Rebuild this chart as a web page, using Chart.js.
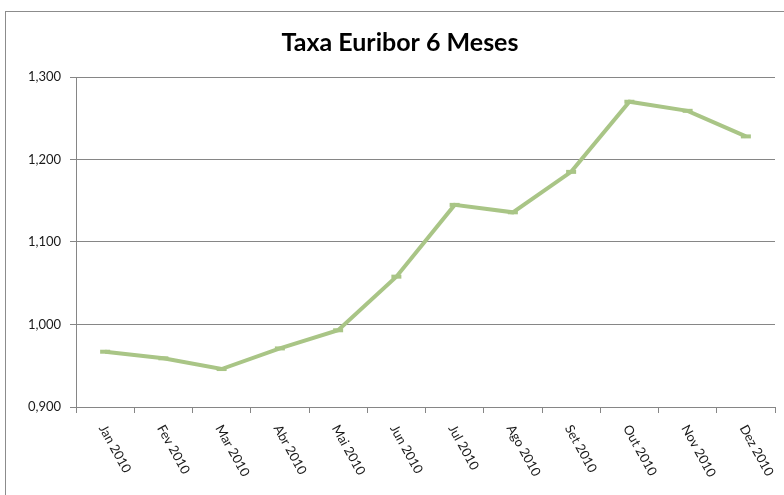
<!DOCTYPE html>
<html>
<head>
<meta charset="utf-8">
<title>Taxa Euribor 6 Meses</title>
<script src="https://cdn.jsdelivr.net/npm/chart.js@4"></script>
<style>
  html, body { margin: 0; padding: 0; background: #fff; }
  #wrap { width: 784px; height: 495px; }
</style>
</head>
<body>
<div id="wrap"><canvas id="chart"></canvas></div>
<script>
// Data
const months = ['Jan 2010', 'Fev 2010', 'Mar 2010', 'Abr 2010', 'Mai 2010', 'Jun 2010',
                'Jul 2010', 'Ago 2010', 'Set 2010', 'Out 2010', 'Nov 2010', 'Dez 2010'];
const euribor6m = [0.967, 0.959, 0.946, 0.971, 0.993, 1.058,
                   1.145, 1.136, 1.185, 1.270, 1.259, 1.228];
const yTicks = [0.9, 1.0, 1.1, 1.2, 1.3];

const LINE_GREEN = '#a9c586';
const AXIS_GREY = '#868686';
const FONT = 'Lato, "Open Sans", sans-serif';

// Excel-like frame around the chart
const framePlugin = {
  id: 'frame',
  beforeDraw(chart) {
    const ctx = chart.ctx;
    ctx.save();
    ctx.fillStyle = '#fff';
    ctx.fillRect(0, 0, chart.width, chart.height);
    ctx.strokeStyle = '#8c8c8c';
    ctx.lineWidth = 1;
    ctx.strokeRect(5.5, 11.5, chart.width + 20, chart.height + 20);
    ctx.restore();
  }
};

// Slanted category labels (rotated clockwise, like the spreadsheet)
const slantedLabels = {
  id: 'slantedLabels',
  afterDraw(chart) {
    const x = chart.scales.x;
    const ctx = chart.ctx;
    ctx.save();
    ctx.font = '13px ' + FONT;
    ctx.fillStyle = '#1a1a1a';
    ctx.textAlign = 'left';
    ctx.textBaseline = 'middle';
    months.forEach((m, i) => {
      ctx.save();
      ctx.translate(x.getPixelForTick(i) - 3, x.top + 19);
      ctx.rotate(61 * Math.PI / 180);
      ctx.fillText(m, 0, 0);
      ctx.restore();
    });
    ctx.restore();
  }
};

new Chart(document.getElementById('chart'), {
  type: 'line',
  data: {
    labels: months,
    datasets: [{
      label: 'Euribor 6 Meses',
      data: euribor6m,
      borderColor: LINE_GREEN,
      backgroundColor: LINE_GREEN,
      borderWidth: 4,
      tension: 0,
      pointStyle: 'line',
      pointRadius: 5,
      pointBorderWidth: 4,
      pointBorderColor: LINE_GREEN
    }]
  },
  options: {
    responsive: true,
    maintainAspectRatio: false,
    animation: false,
    layout: { padding: { left: 20, right: 4, top: 0, bottom: 0 } },
    plugins: {
      legend: { display: false },
      tooltip: { enabled: false },
      title: {
        display: true,
        text: 'Taxa Euribor 6 Meses',
        color: '#000',
        font: { family: FONT, size: 25, weight: 'bold' },
        padding: { top: 28, bottom: 19 }
      }
    },
    scales: {
      x: {
        type: 'category',
        offset: true,
        afterFit: s => { s.height = 88; },
        grid: { offset: true, drawOnChartArea: false, tickLength: 6, color: AXIS_GREY },
        border: { color: AXIS_GREY },
        ticks: { display: false }
      },
      y: {
        min: 0.9,
        max: 1.3,
        afterFit: s => { s.width = 56; },
        afterBuildTicks: s => { s.ticks = yTicks.map(v => ({ value: v })); },
        grid: { color: AXIS_GREY, tickLength: 6 },
        border: { color: AXIS_GREY },
        ticks: {
          color: '#1a1a1a',
          padding: 9,
          font: { family: FONT, size: 13 },
          callback: v => v.toFixed(3).replace('.', ',')
        }
      }
    }
  },
  plugins: [framePlugin, slantedLabels]
});
</script>
</body>
</html>
